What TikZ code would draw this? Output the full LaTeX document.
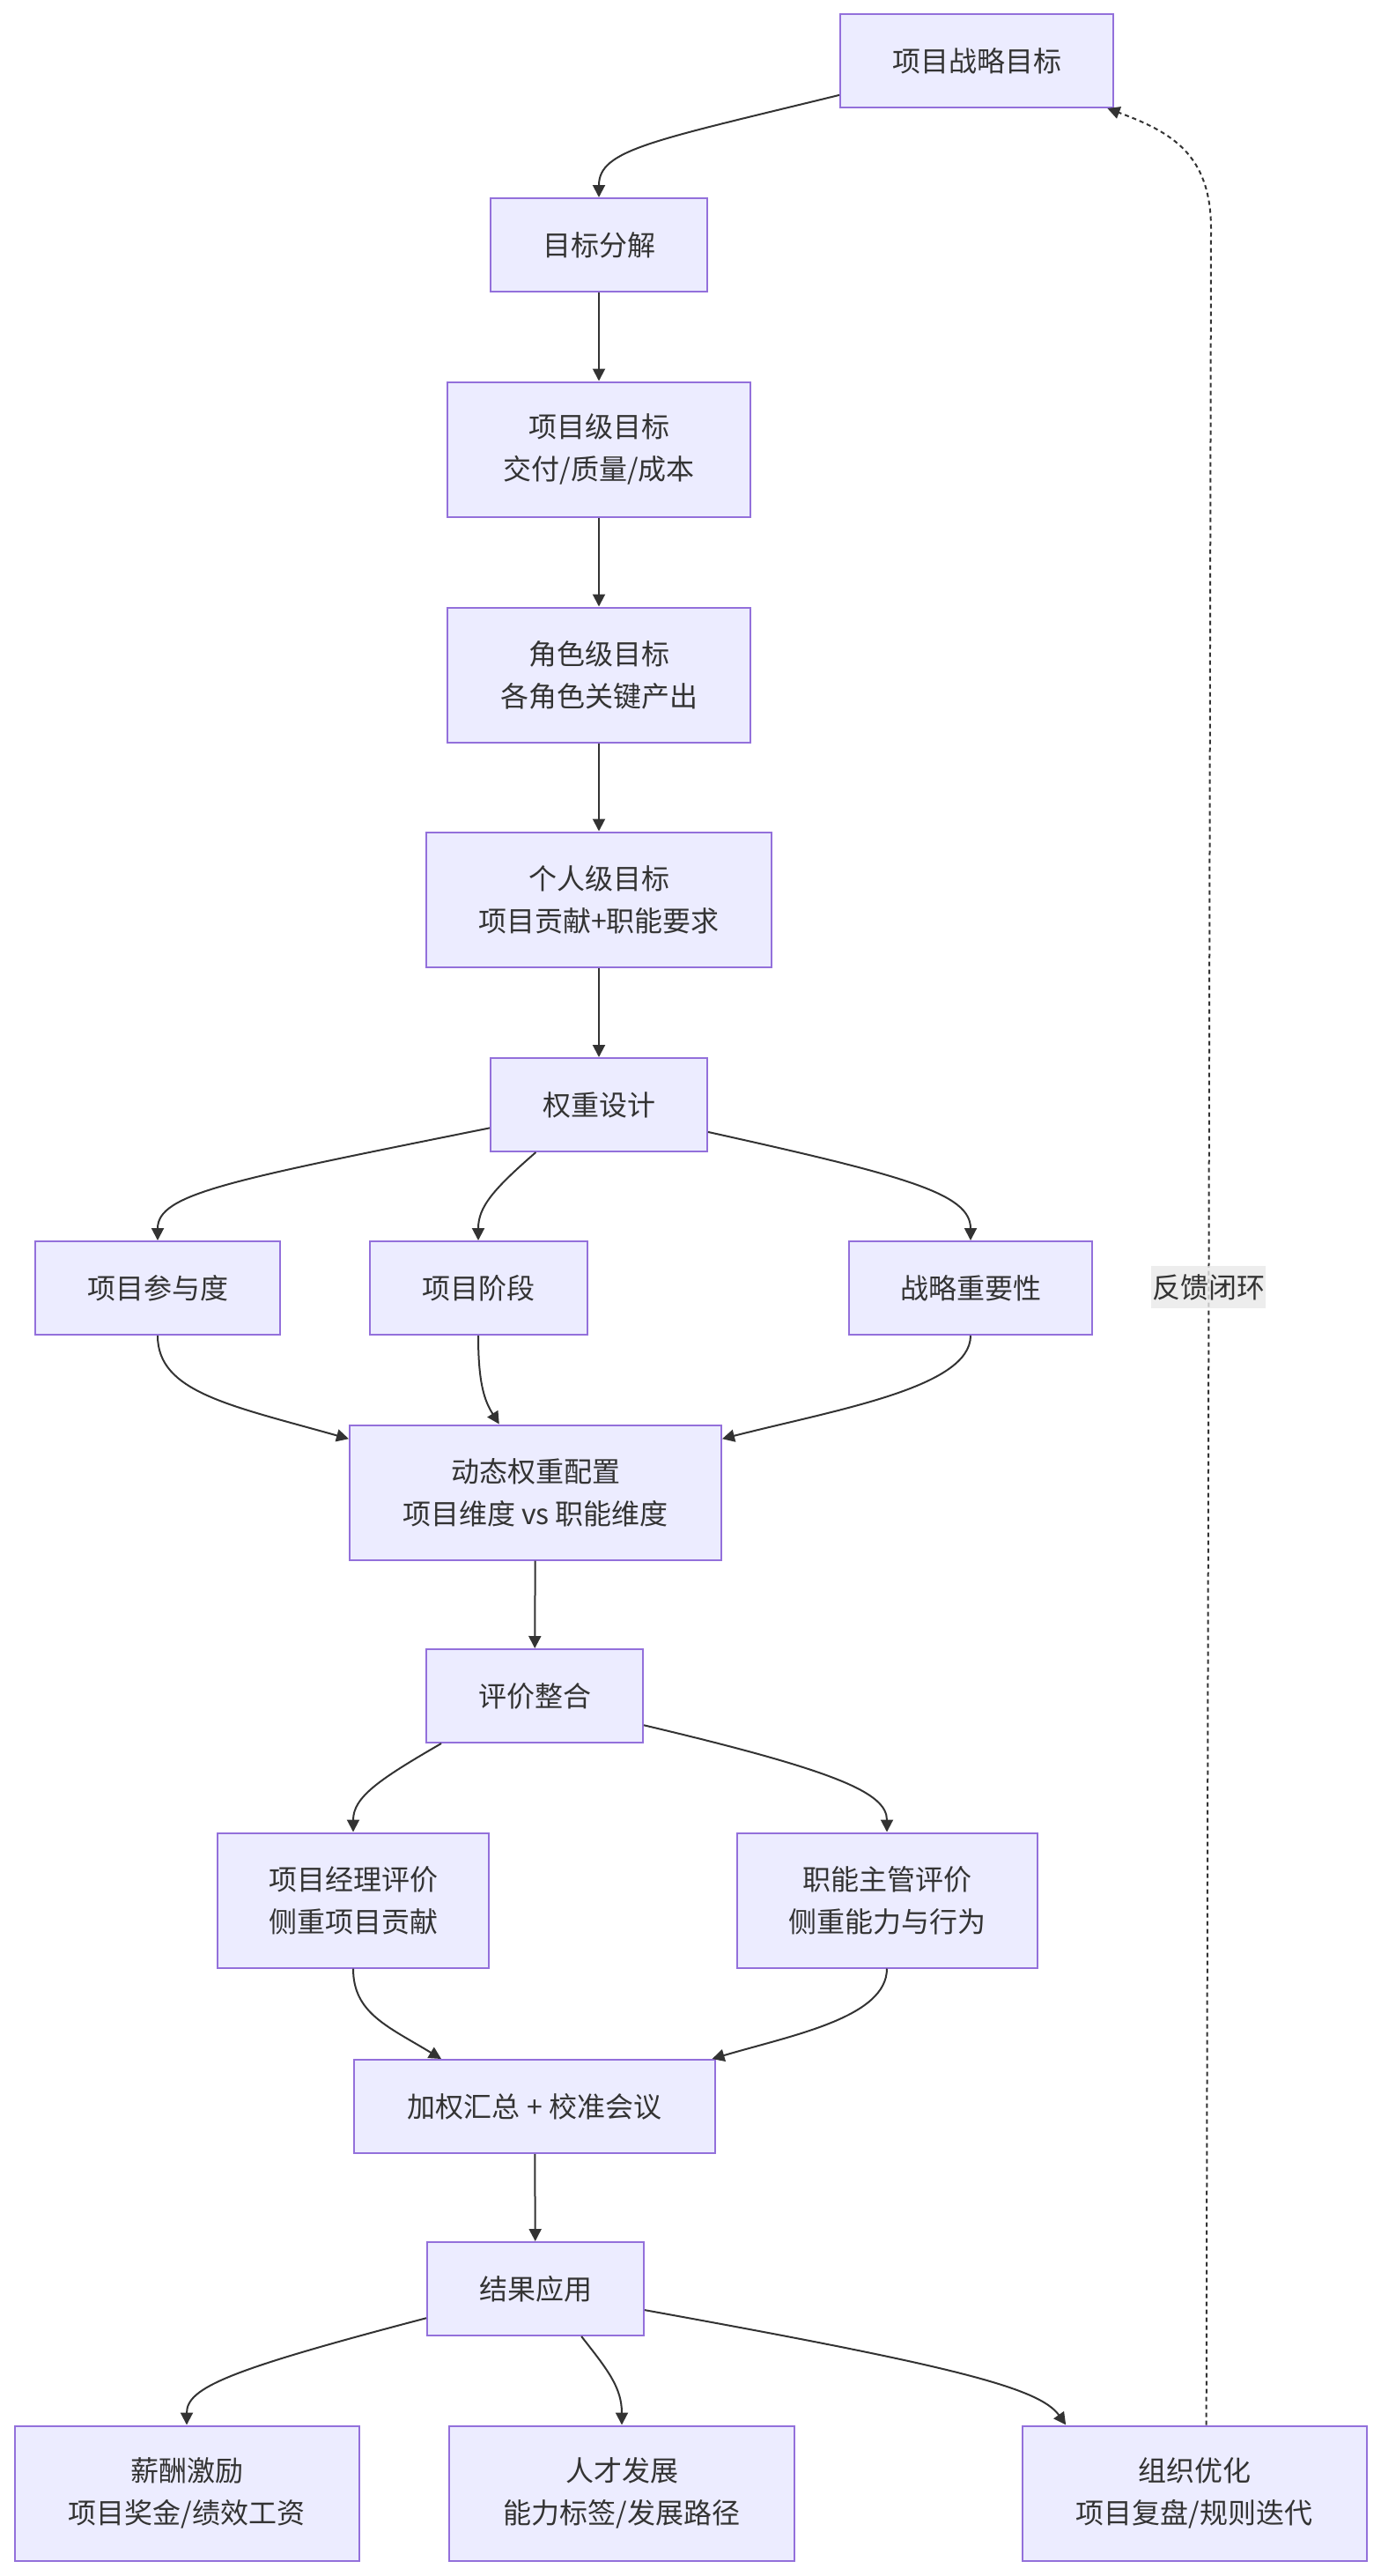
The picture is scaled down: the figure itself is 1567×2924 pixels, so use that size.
\documentclass[tikz,border=0pt]{standalone}
\usepackage{fontspec}
\setmainfont{Noto Sans CJK SC}
\usetikzlibrary{arrows.meta}
\definecolor{boxfill}{HTML}{ECECFF}
\definecolor{boxline}{HTML}{9370DB}
\definecolor{edgecol}{HTML}{333333}
\definecolor{textcol}{HTML}{333333}
\definecolor{lblbg}{HTML}{E8E8E8}
\tikzset{
  box/.style={rectangle, draw=boxline, fill=boxfill, line width=2pt, text=textcol,
    align=center, inner sep=0pt, minimum height=106pt,
    font=\fontsize{32pt}{48pt}\selectfont},
  box2/.style={box, minimum height=153pt},
  flow/.style={draw=edgecol, line width=2pt, -{Triangle[length=14pt,width=14pt]}},
  loopback/.style={flow, dash pattern=on 5pt off 4pt},
  lbl/.style={fill=lblbg, fill opacity=0.8, text opacity=1, text=textcol, inner xsep=1pt,
    inner ysep=0pt, minimum height=48pt, font=\fontsize{32pt}{48pt}\selectfont}
}

\begin{document}
\begin{tikzpicture}[x=1pt, y=-1pt]
  \useasboundingbox (0,0) rectangle (1567,2924);

  % goal chain
  \node[box, minimum width=310pt] (strat) at (1109,69) {项目战略目标};
  \node[box, minimum width=246pt] (decomp) at (680,278) {目标分解};
  \node[box2, minimum width=344pt] (projgoal) at (680,510) {项目级目标\\交付/质量/成本};
  \node[box2, minimum width=344pt] (rolegoal) at (680,766) {角色级目标\\各角色关键产出};
  \node[box2, minimum width=392pt] (persgoal) at (680,1021) {个人级目标\\项目贡献+职能要求};

  % weights
  \node[box, minimum width=246pt] (wdesign) at (680,1254) {权重设计};
  \node[box, minimum width=278pt] (part) at (179,1462) {项目参与度};
  \node[box, minimum width=247pt] (phase) at (543,1462) {项目阶段};
  \node[box, minimum width=276pt] (imp) at (1102,1462) {战略重要性};
  \node[box2, minimum width=422pt] (dyn) at (608,1694) {动态权重配置\\项目维度 vs 职能维度};

  % evaluation
  \node[box, minimum width=246pt] (evalint) at (607,1925) {评价整合};
  \node[box2, minimum width=308pt] (pmeval) at (401,2157) {项目经理评价\\侧重项目贡献};
  \node[box2, minimum width=341pt] (fmeval) at (1007,2157) {职能主管评价\\侧重能力与行为};
  \node[box, minimum width=410pt] (agg) at (607,2391) {加权汇总 + 校准会议};

  % results
  \node[box, minimum width=246pt] (result) at (608,2598) {结果应用};
  \node[box2, minimum width=391pt] (comp) at (212,2830) {薪酬激励\\项目奖金/绩效工资};
  \node[box2, minimum width=392pt] (talent) at (706,2830) {人才发展\\能力标签/发展路径};
  \node[box2, minimum width=391pt] (org) at (1356,2830) {组织优化\\项目复盘/规则迭代};

  \draw[flow] (strat.194) .. controls (740,160) and (680,170) .. (decomp.north);
  \draw[flow] (decomp) -- (projgoal);
  \draw[flow] (projgoal) -- (rolegoal);
  \draw[flow] (rolegoal) -- (persgoal);
  \draw[flow] (persgoal) -- (wdesign);

  \draw[flow] (wdesign.192) .. controls (260,1340) and (179,1355) .. (part.north);
  \draw[flow] (wdesign.217) .. controls (560,1350) and (543,1370) .. (phase.north);
  \draw[flow] (wdesign.-14) .. controls (1030,1335) and (1102,1355) .. (imp.north);
  \draw[flow] (part.south) .. controls (179,1580) and (260,1595) .. (dyn.164);
  \draw[flow] (phase.south) .. controls (543,1570) and (550,1590) .. (dyn.118);
  \draw[flow] (imp.south) .. controls (1102,1575) and (950,1600) .. (dyn.16);
  \draw[flow] (dyn) -- (evalint);

  \draw[flow] (evalint.207) .. controls (430,2020) and (401,2040) .. (pmeval.north);
  \draw[flow] (evalint.-15) .. controls (950,2010) and (1007,2035) .. (fmeval.north);
  \draw[flow] (pmeval.south) .. controls (401,2285) and (440,2300) .. (agg.153);
  \draw[flow] (fmeval.south) .. controls (1007,2290) and (900,2310) .. (agg.15);
  \draw[flow] (agg) -- (result);

  \draw[flow] (result.195) .. controls (260,2690) and (212,2710) .. (comp.north);
  \draw[flow] (result.314) .. controls (690,2690) and (706,2710) .. (talent.north);
  \draw[flow] (result.-11) .. controls (1080,2685) and (1180,2710) .. (org.152);

  % feedback loop
  \coordinate (loopturn) at (1375,260);
  \draw[loopback] (org.80) -- node[lbl, pos=0.518] {反馈闭环} (loopturn)
    .. controls (1375,175) and (1330,150) .. (strat.-20);
\end{tikzpicture}
\end{document}
